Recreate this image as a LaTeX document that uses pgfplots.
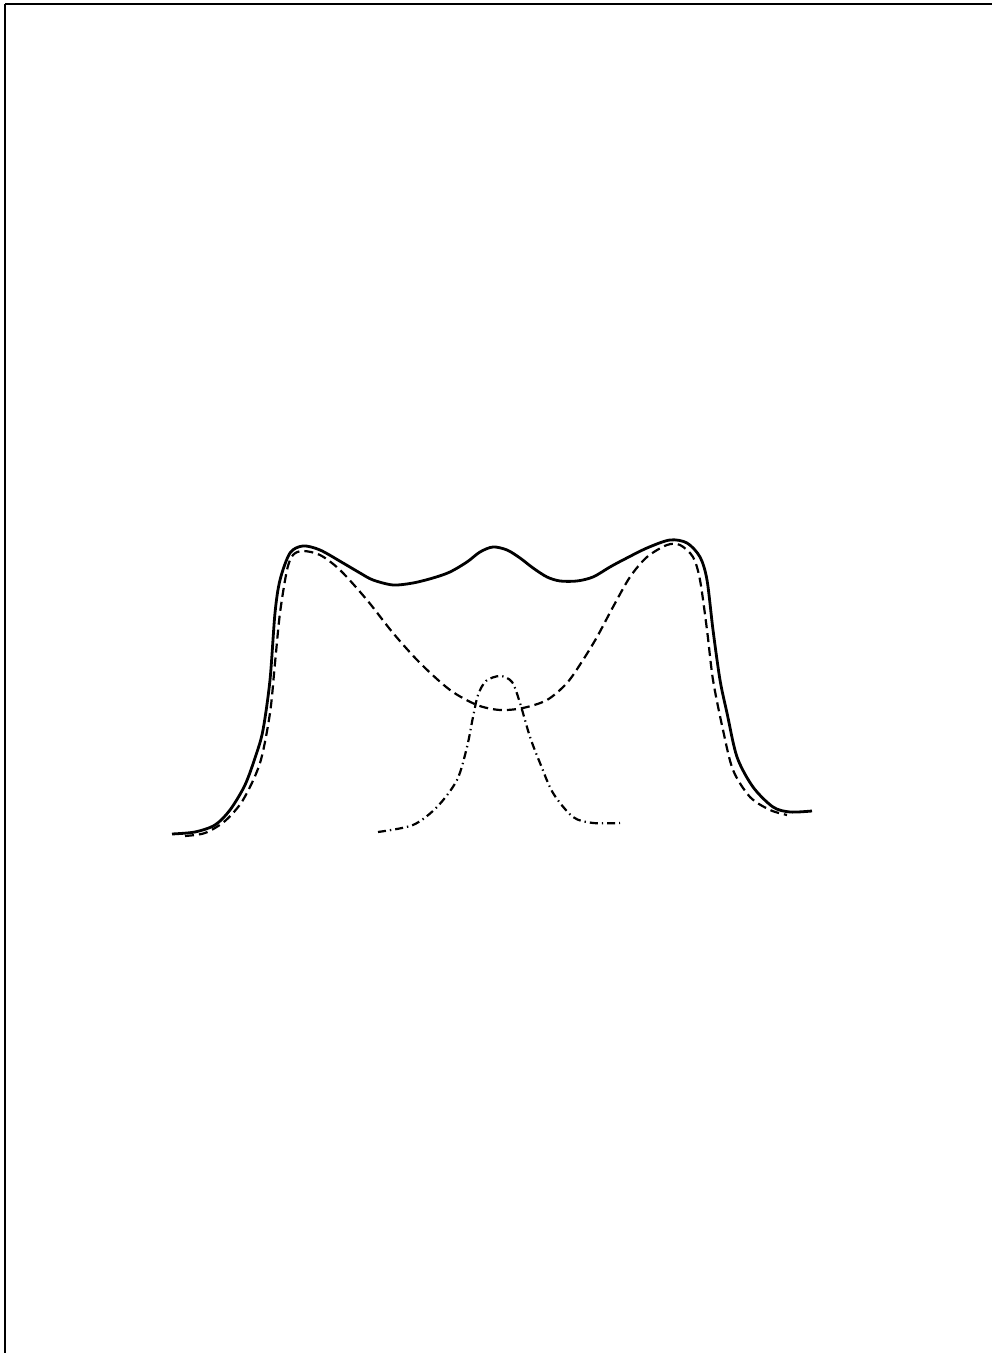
\documentclass[border=0pt]{standalone}
\usepackage{pgfplots}
\pgfplotsset{compat=1.18}
\begin{document}
\begin{tikzpicture}
\useasboundingbox (-2.5pt,0pt) rectangle (493.5pt,676.5pt);
\begin{axis}[
  at={(0,0)}, anchor=south west,
  scale only axis, width=493.5pt, height=674.5pt,
  xmin=5, xmax=992, ymin=0, ymax=1349,
  axis x line*=top, axis y line*=left,
  axis line style={line width=1.4pt, -},
  xtick=\empty, ytick=\empty,
  clip=false,
]
% solid curve
\addplot[black, line width=1.4pt, smooth, tension=0.5] coordinates {
(172,519) (195,521) (215,528) (230,543) (245,568) (256,598) (263,623) (270,673) (275,740) (280,773)
(290,800) (303,807) (320,803) (343,790) (360,780) (373,773) (393,768) (413,770) (433,775)
(450,781) (467,791) (480,801) (493,806) (507,803) (520,795) (533,785) (547,776)
(560,772) (577,772) (593,776) (610,786) (623,793) (647,805)
(670,813) (687,810) (700,796) (707,773) (713,723) (720,673) (727,640) (737,596)
(753,566) (773,546) (790,541) (812,542)
};
% dashed curve
\addplot[black, line width=1.1pt, smooth, tension=0.5, dash pattern=on 4.5pt off 2.5pt] coordinates {
(185,517) (205,520) (225,532) (243,553) (260,590) (270,640) (275,690) (280,740) (287,783)
(293,798) (303,802) (320,798) (340,783) (367,753) (393,720) (420,690) (450,663)
(477,648) (500,643) (523,645) (547,653) (567,670) (583,693) (597,716) (613,746)
(630,776) (647,796) (667,808) (680,808) (693,796) (700,773) (707,723) (713,673)
(723,623) (733,583) (750,556) (770,543) (787,538)
};
% dash-dot curve
\addplot[black, line width=1.1pt, smooth, tension=0.5, dash pattern=on 4pt off 2pt on 0.7pt off 2pt] coordinates {
(378,521) (413,528) (437,546) (457,573) (467,606) (473,636) (478,658) (486,672)
(500,677) (512,671) (520,650) (530,616) (540,590) (553,560) (573,536) (593,530)
(620,530)
};
\end{axis}
\end{tikzpicture}
\end{document}
